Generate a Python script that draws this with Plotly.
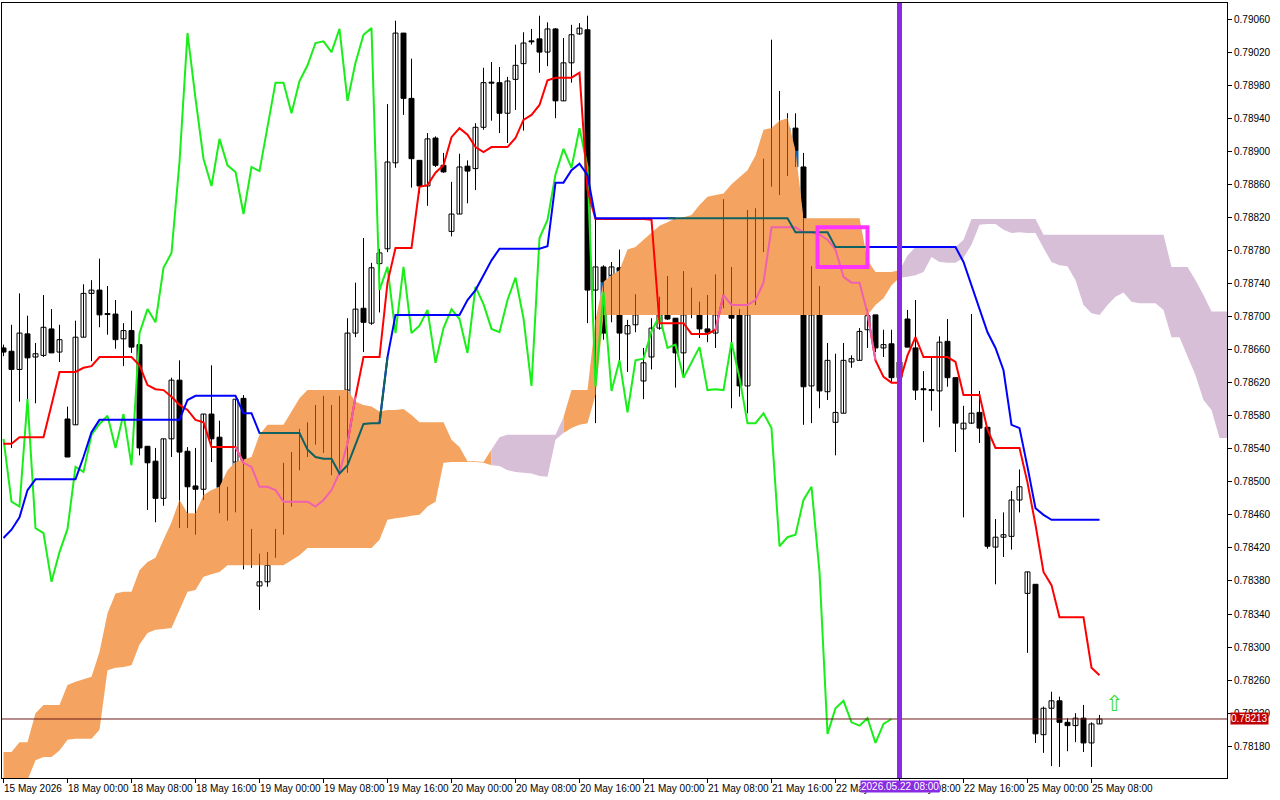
import plotly.graph_objects as go

# ---------------- data (H1 bars, index 0 = 15 May 2026 16:00) ----------------
opens = [0.78662,0.78658,0.78636,0.78679,0.78651,0.78653,0.78685,0.78657,0.78576,0.78569,
0.78675,0.78728,0.78732,0.78703,0.78703,0.78673,0.78683,0.78666,0.78543,0.78525,
0.78480,0.78552,0.78623,0.78537,0.78495,0.78491,0.78582,0.78554,0.78478,0.78468,
0.78601,0.78443,0.78374,0.78379,0.78414,0.78443,0.78518,0.78514,0.78557,0.78570,
0.78580,0.78541,0.78587,0.78520,0.78680,0.78710,0.78692,0.78764,0.78782,0.78886,
0.79043,0.78964,0.78889,0.78858,0.78916,0.78883,0.78803,0.78824,0.78882,0.78879,
0.78929,0.78983,0.78983,0.78946,0.78987,0.79006,0.79033,0.79036,0.79020,0.79048,
0.78961,0.79007,0.79042,0.79047,0.78732,0.78760,0.78715,0.78759,0.78679,0.78690,
0.78622,0.78651,0.78686,0.78709,0.78698,0.78656,0.78735,0.78718,0.78685,0.78680,
0.78710,0.78747,0.78703,0.78616,0.78795,0.78816,0.78874,0.78902,0.78880,0.78928,
0.78881,0.78616,0.78730,0.78609,0.78572,0.78583,0.78645,0.78647,0.78684,0.78702,
0.78662,0.78667,0.78626,0.78697,0.78662,0.78612,0.78611,0.78610,0.78670,0.78626,
0.78564,0.78571,0.78584,0.78566,0.78421,0.78433,0.78434,0.78478,0.78365,0.78376,
0.78194,0.78226,0.78235,0.78209,0.78205,0.78214,0.78184,0.78207]
highs = [0.78666,0.78690,0.78728,0.78701,0.78668,0.78726,0.78709,0.78690,0.78591,0.78695,
0.78739,0.78744,0.78770,0.78737,0.78720,0.78692,0.78707,0.78666,0.78543,0.78541,
0.78552,0.78626,0.78647,0.78542,0.78541,0.78582,0.78641,0.78574,0.78494,0.78600,
0.78605,0.78443,0.78413,0.78415,0.78443,0.78523,0.78536,0.78564,0.78572,0.78593,
0.78604,0.78593,0.78604,0.78698,0.78741,0.78795,0.78765,0.78782,0.78957,0.79058,
0.79043,0.79012,0.78889,0.78922,0.78918,0.78898,0.78863,0.78897,0.78889,0.78934,
0.79001,0.79008,0.79002,0.78990,0.79029,0.79044,0.79048,0.79064,0.79056,0.79049,
0.79037,0.79053,0.79055,0.79064,0.78819,0.78762,0.78766,0.78781,0.78696,0.78727,
0.78662,0.78698,0.78724,0.78749,0.78698,0.78755,0.78735,0.78718,0.78726,0.78751,
0.78842,0.78760,0.78709,0.78829,0.78831,0.78891,0.79035,0.78973,0.78946,0.78946,
0.78898,0.78761,0.78737,0.78668,0.78655,0.78668,0.78653,0.78686,0.78709,0.78702,
0.78684,0.78684,0.78653,0.78708,0.78720,0.78634,0.78650,0.78676,0.78697,0.78626,
0.78592,0.78703,0.78610,0.78566,0.78455,0.78463,0.78489,0.78515,0.78391,0.78376,
0.78228,0.78246,0.78240,0.78214,0.78220,0.78230,0.78209,0.78218]
lows = [0.78652,0.78541,0.78597,0.78599,0.78595,0.78651,0.78656,0.78645,0.78530,0.78569,
0.78675,0.78646,0.78687,0.78678,0.78661,0.78640,0.78656,0.78532,0.78466,0.78451,
0.78471,0.78530,0.78444,0.78444,0.78436,0.78478,0.78524,0.78462,0.78453,0.78463,
0.78394,0.78396,0.78345,0.78373,0.78408,0.78436,0.78470,0.78514,0.78530,0.78545,
0.78535,0.78508,0.78511,0.78511,0.78675,0.78657,0.78690,0.78705,0.78778,0.78880,
0.78944,0.78856,0.78849,0.78834,0.78881,0.78874,0.78797,0.78824,0.78837,0.78853,
0.78926,0.78937,0.78922,0.78910,0.78950,0.78925,0.79029,0.78995,0.79003,0.78940,
0.78961,0.78983,0.79041,0.78692,0.78571,0.78672,0.78693,0.78647,0.78633,0.78681,
0.78600,0.78636,0.78684,0.78696,0.78614,0.78626,0.78698,0.78674,0.78669,0.78662,
0.78710,0.78589,0.78603,0.78583,0.78714,0.78778,0.78857,0.78847,0.78870,0.78881,
0.78569,0.78571,0.78589,0.78599,0.78532,0.78583,0.78638,0.78647,0.78662,0.78657,
0.78651,0.78620,0.78617,0.78663,0.78599,0.78548,0.78586,0.78566,0.78615,0.78536,
0.78457,0.78570,0.78547,0.78419,0.78376,0.78409,0.78418,0.78463,0.78293,0.78184,
0.78172,0.78156,0.78155,0.78174,0.78185,0.78173,0.78155,0.78207]
closes = [0.78657,0.78636,0.78680,0.78650,0.78655,0.78687,0.78656,0.78672,0.78530,0.78675,
0.78728,0.78732,0.78702,0.78703,0.78672,0.78683,0.78663,0.78541,0.78523,0.78480,
0.78552,0.78623,0.78536,0.78494,0.78491,0.78582,0.78552,0.78476,0.78470,0.78600,
0.78444,0.78438,0.78379,0.78415,0.78443,0.78518,0.78512,0.78557,0.78570,0.78580,
0.78541,0.78582,0.78520,0.78680,0.78709,0.78693,0.78759,0.78777,0.78887,0.79043,
0.78964,0.78891,0.78858,0.78915,0.78883,0.78875,0.78824,0.78881,0.78876,0.78929,
0.78983,0.78983,0.78946,0.78985,0.79004,0.79031,0.79033,0.79020,0.79048,0.78961,
0.79007,0.79041,0.79049,0.78732,0.78760,0.78680,0.78760,0.78680,0.78689,0.78708,
0.78644,0.78686,0.78709,0.78697,0.78656,0.78736,0.78715,0.78685,0.78681,0.78720,
0.78747,0.78698,0.78616,0.78795,0.78817,0.78872,0.78903,0.78880,0.78928,0.78881,
0.78615,0.78730,0.78610,0.78647,0.78584,0.78647,0.78649,0.78682,0.78701,0.78662,
0.78666,0.78626,0.78645,0.78663,0.78611,0.78612,0.78611,0.78669,0.78626,0.78571,
0.78571,0.78583,0.78565,0.78422,0.78433,0.78436,0.78478,0.78494,0.78391,0.78195,
0.78226,0.78235,0.78209,0.78205,0.78214,0.78184,0.78207,0.78213]

tenkan = [0.78546,0.78546,0.78554,0.78554,0.78554,0.78554,0.78593,0.78633,0.78633,0.78633,
0.78638,0.78640,0.78651,0.78651,0.78651,0.78651,0.78651,0.78641,0.78617,0.78612,
0.78611,0.78603,0.78593,0.78587,0.78575,0.78572,0.78542,0.78542,0.78542,0.78542,
0.78523,0.78518,0.78494,0.78494,0.78490,0.78476,0.78476,0.78476,0.78476,0.78470,
0.78478,0.78490,0.78511,0.78547,0.78603,0.78651,0.78651,0.78651,0.78741,0.78783,
0.78783,0.78783,0.78857,0.78859,0.78874,0.78883,0.78917,0.78928,0.78920,0.78905,
0.78899,0.78905,0.78905,0.78905,0.78916,0.78938,0.78944,0.78956,0.78986,0.78989,
0.78989,0.78989,0.78995,0.78853,0.78818,0.78818,0.78818,0.78818,0.78818,0.78818,
0.78818,0.78817,0.78692,0.78692,0.78692,0.78692,0.78679,0.78679,0.78679,0.78684,
0.78726,0.78714,0.78714,0.78714,0.78720,0.78741,0.78808,0.78808,0.78808,0.78808,
0.78802,0.78802,0.78799,0.78793,0.78781,0.78748,0.78741,0.78741,0.78704,0.78647,
0.78627,0.78620,0.78620,0.78653,0.78675,0.78651,0.78651,0.78651,0.78651,0.78645,
0.78605,0.78605,0.78605,0.78563,0.78541,0.78541,0.78541,0.78541,0.78499,0.78448,
0.78391,0.78375,0.78336,0.78336,0.78336,0.78336,0.78275,0.78266]
kijun = [0.78432,0.78442,0.78457,0.78490,0.78503,0.78503,0.78503,0.78503,0.78503,0.78503,
0.78530,0.78560,0.78575,0.78575,0.78575,0.78575,0.78575,0.78575,0.78575,0.78575,
0.78575,0.78575,0.78575,0.78599,0.78604,0.78604,0.78604,0.78604,0.78604,0.78604,
0.78583,0.78583,0.78559,0.78559,0.78559,0.78559,0.78559,0.78559,0.78539,0.78530,
0.78528,0.78528,0.78510,0.78520,0.78545,0.78570,0.78571,0.78571,0.78651,0.78702,
0.78702,0.78702,0.78702,0.78702,0.78702,0.78702,0.78702,0.78702,0.78720,0.78732,
0.78750,0.78768,0.78782,0.78782,0.78782,0.78782,0.78782,0.78782,0.78785,0.78862,
0.78862,0.78877,0.78885,0.78871,0.78819,0.78819,0.78819,0.78819,0.78819,0.78819,
0.78819,0.78819,0.78819,0.78819,0.78819,0.78819,0.78819,0.78819,0.78819,0.78819,
0.78819,0.78819,0.78819,0.78819,0.78819,0.78819,0.78819,0.78819,0.78819,0.78802,
0.78802,0.78802,0.78802,0.78802,0.78784,0.78784,0.78784,0.78784,0.78784,0.78784,
0.78784,0.78784,0.78784,0.78784,0.78784,0.78784,0.78784,0.78784,0.78784,0.78784,
0.78766,0.78738,0.78710,0.78681,0.78662,0.78635,0.78569,0.78565,0.78518,0.78468,
0.78460,0.78454,0.78454,0.78454,0.78454,0.78454,0.78454,0.78454]
span_a = [0.78173,0.78173,0.78185,0.78185,0.78220,0.78230,0.78230,0.78230,0.78254,0.78258,
0.78261,0.78264,0.78294,0.78341,0.78365,0.78367,0.78367,0.78393,0.78403,0.78408,
0.78430,0.78451,0.78478,0.78462,0.78462,0.78484,0.78490,0.78494,0.78514,0.78524,
0.78527,0.78530,0.78557,0.78569,0.78569,0.78569,0.78585,0.78601,0.78611,0.78611,
0.78611,0.78611,0.78611,0.78611,0.78597,0.78593,0.78591,0.78585,0.78587,0.78587,
0.78588,0.78581,0.78572,0.78572,0.78572,0.78572,0.78551,0.78542,0.78525,0.78525,
0.78524,0.78520,0.78519,0.78514,0.78512,0.78511,0.78510,0.78507,0.78506,0.78551,
0.78578,0.78611,0.78611,0.78611,0.78696,0.78742,0.78750,0.78756,0.78781,0.78784,
0.78793,0.78802,0.78810,0.78814,0.78819,0.78820,0.78823,0.78835,0.78845,0.78847,
0.78849,0.78860,0.78868,0.78877,0.78895,0.78926,0.78928,0.78937,0.78940,0.78901,
0.78819,0.78819,0.78819,0.78819,0.78819,0.78819,0.78819,0.78819,0.78768,0.78754,
0.78754,0.78754,0.78747,0.78748,0.78750,0.78754,0.78772,0.78766,0.78765,0.78765,
0.78771,0.78787,0.78811,0.78812,0.78812,0.78805,0.78801,0.78802,0.78801,0.78801,
0.78783,0.78766,0.78762,0.78761,0.78744,0.78714,0.78704,0.78702,0.78714,0.78724,
0.78729,0.78718,0.78716,0.78716,0.78716,0.78708,0.78675,0.78675,0.78653,0.78629,
0.78599,0.78587,0.78553,0.78553]
span_b = [0.78133,0.78133,0.78133,0.78139,0.78163,0.78167,0.78167,0.78175,0.78188,0.78189,
0.78189,0.78189,0.78200,0.78272,0.78275,0.78276,0.78278,0.78303,0.78317,0.78321,
0.78322,0.78323,0.78345,0.78367,0.78369,0.78385,0.78388,0.78391,0.78399,0.78399,
0.78399,0.78399,0.78399,0.78399,0.78399,0.78399,0.78405,0.78411,0.78420,0.78420,
0.78420,0.78420,0.78420,0.78420,0.78420,0.78420,0.78420,0.78430,0.78454,0.78456,
0.78457,0.78459,0.78460,0.78470,0.78476,0.78523,0.78524,0.78524,0.78524,0.78524,
0.78523,0.78539,0.78554,0.78557,0.78557,0.78557,0.78557,0.78557,0.78557,0.78557,
0.78559,0.78565,0.78569,0.78571,0.78605,0.78702,0.78702,0.78702,0.78702,0.78702,
0.78702,0.78702,0.78702,0.78702,0.78702,0.78702,0.78702,0.78702,0.78702,0.78702,
0.78702,0.78702,0.78702,0.78702,0.78702,0.78702,0.78702,0.78702,0.78702,0.78702,
0.78702,0.78702,0.78702,0.78702,0.78702,0.78702,0.78702,0.78702,0.78702,0.78714,
0.78722,0.78738,0.78756,0.78774,0.78784,0.78784,0.78784,0.78784,0.78784,0.78784,
0.78793,0.78818,0.78818,0.78818,0.78818,0.78818,0.78818,0.78818,0.78818,0.78818,
0.78799,0.78799,0.78799,0.78799,0.78799,0.78799,0.78799,0.78799,0.78799,0.78799,
0.78799,0.78799,0.78799,0.78799,0.78799,0.78799,0.78760,0.78760,0.78760,0.78744,
0.78726,0.78706,0.78706,0.78706]
chikou_shift = 26
tick_bars = [0, 8, 16, 24, 32, 40, 48, 56, 64, 72, 80, 88, 96, 104, 112, 120, 128, 136]
tick_labels = ["15 May 2026", "18 May 00:00", "18 May 08:00", "18 May 16:00", "19 May 00:00",
               "19 May 08:00", "19 May 16:00", "20 May 00:00", "20 May 08:00", "20 May 16:00",
               "21 May 00:00", "21 May 08:00", "21 May 16:00", "22 May 00:00", "22 May 08:00",
               "22 May 16:00", "25 May 00:00", "25 May 08:00"]
price_ticks = [0.78180, 0.78220, 0.78260, 0.78300, 0.78340, 0.78380, 0.78420, 0.78460,
               0.78500, 0.78540, 0.78580, 0.78620, 0.78660, 0.78700, 0.78740, 0.78780,
               0.78820, 0.78860, 0.78900, 0.78940, 0.78980, 0.79020, 0.79060]
vline_bar = 112
vline_label = "2026.05.22 08:00"
last_price = 0.78213
rect_bars = (101.75, 108.0)
rect_prices = (0.78760, 0.78808)
arrow_bar, arrow_price = 138.8, 0.78232

# ---------------- styling ----------------
ORANGE, THISTLE = "#F4A460", "#D8BFD8"
IN_CANDLE = "#1462A8"
n = len(closes)
nc = len(span_a)

def cloud_at(i):
    if i < nc and span_a[i] >= span_b[i]:
        return span_b[i], span_a[i]
    return None

fig = go.Figure()

colors = [ORANGE if span_a[i] >= span_b[i] else THISTLE for i in range(nc)]
runs, s = [], 0
for i in range(1, nc + 1):
    if i == nc or colors[i] != colors[s]:
        runs.append((s, i - 1, colors[s])); s = i
for s, e, c in runs:
    xs = list(range(s, min(e + 1, nc - 1) + 1))
    lo = [min(span_a[i], span_b[i]) for i in xs]
    hi = [max(span_a[i], span_b[i]) for i in xs]
    fig.add_trace(go.Scatter(x=xs, y=lo, mode="lines", line=dict(width=0, color=c),
                             hoverinfo="skip", showlegend=False))
    fig.add_trace(go.Scatter(x=xs, y=hi, mode="lines", line=dict(width=0, color=c),
                             fill="tonexty", fillcolor=c, hoverinfo="skip", showlegend=False))

def split(a, b, cl):
    if cl is None:
        return [(a, b, False)]
    lo, hi = cl
    p = []
    ia, ib = max(a, lo), min(b, hi)
    if ib > ia:
        p.append((ia, ib, True))
        if lo > a: p.append((a, lo, False))
        if b > hi: p.append((hi, b, False))
    else:
        p.append((a, b, False))
    return p

wx = {False: [], True: []}; wy = {False: [], True: []}
bodies = {(bull, ins): ([], [], []) for bull in (True, False) for ins in (True, False)}
for i in range(n):
    cl = cloud_at(i)
    for a, b, ins in split(lows[i], highs[i], cl):
        wx[ins] += [i, i, None]; wy[ins] += [a, b, None]
    top, bot = max(opens[i], closes[i]), min(opens[i], closes[i])
    if top - bot < 0.000012:
        m = (top + bot) / 2; top, bot = m + 0.000006, m - 0.000006
    bull = closes[i] > opens[i]
    for a, b, ins in split(bot, top, cl):
        bx, by, bb = bodies[(bull, ins)]
        bx.append(i); by.append(b - a); bb.append(a)
for ins in (False, True):
    fig.add_trace(go.Scatter(x=wx[ins], y=wy[ins], mode="lines",
                             line=dict(color=IN_CANDLE if ins else "black", width=1),
                             hoverinfo="skip", showlegend=False))
for (bull, ins), (bx, by, bb) in bodies.items():
    col = IN_CANDLE if ins else "black"
    fig.add_trace(go.Bar(x=bx, y=by, base=bb, width=0.62,
                         marker=dict(color="white" if bull else col, line=dict(color=col, width=1)),
                         hoverinfo="skip", showlegend=False))

def add_line(vals, xs, c_out, c_in, width=2):
    inside = []
    for i, v in zip(xs, vals):
        cl = cloud_at(i)
        inside.append(cl is not None and cl[0] <= v <= cl[1])
    m = len(vals)
    out_y, in_y = [], []
    for k in range(m):
        near_in = inside[k] or (k > 0 and inside[k - 1]) or (k < m - 1 and inside[k + 1])
        near_out = (not inside[k]) or (k > 0 and not inside[k - 1]) or (k < m - 1 and not inside[k + 1])
        out_y.append(vals[k] if near_out else None)
        in_y.append(vals[k] if near_in else None)
    fig.add_trace(go.Scatter(x=xs, y=out_y, mode="lines", line=dict(color=c_out, width=width),
                             hoverinfo="skip", showlegend=False))
    if any(inside):
        fig.add_trace(go.Scatter(x=xs, y=in_y, mode="lines", line=dict(color=c_in, width=width),
                                 hoverinfo="skip", showlegend=False))

chikou_x = list(range(0, n - chikou_shift))
chikou_y = closes[chikou_shift:]
fig.add_trace(go.Scatter(x=chikou_x, y=chikou_y, mode="lines", line=dict(color="#19EE19", width=2),
                         hoverinfo="skip", showlegend=False))
add_line(tenkan, list(range(n)), "#FF0000", "#F060B0")
add_line(kijun, list(range(n)), "#0000FF", "#0E6262")

fig.add_hline(y=last_price, line=dict(color="#6B1A1A", width=1))
fig.add_vline(x=vline_bar, line=dict(color="#8A2BE2", width=5))
fig.add_shape(type="rect", x0=rect_bars[0], x1=rect_bars[1], y0=rect_prices[0], y1=rect_prices[1],
              line=dict(color="#FF33FF", width=4))

ann = []
for b, t in zip(tick_bars, tick_labels):
    ann.append(dict(x=b, y=0, xref="x", yref="paper", text=t, showarrow=False, xanchor="left",
                    yanchor="top", xshift=-2, yshift=-3, font=dict(size=10, color="black")))
ann.append(dict(x=vline_bar, y=0, xref="x", yref="paper", text=vline_label, showarrow=False,
                xanchor="center", yanchor="top", yshift=-2, bgcolor="#8A2BE2",
                font=dict(size=10, color="white"), borderpad=0))
ann.append(dict(x=1, y=last_price, xref="paper", yref="y", text=f"{last_price:.5f}", showarrow=False,
                xanchor="left", yanchor="middle", xshift=3, bgcolor="#C00000",
                font=dict(size=10, color="white"), borderpad=0))
ann.append(dict(x=arrow_bar, y=arrow_price, xref="x", yref="y", text="⇧", showarrow=False,
                font=dict(size=22, color="#33DD33", family="DejaVu Sans")))

fig.update_layout(
    width=1280, height=800, margin=dict(l=2, r=53, t=3, b=22),
    paper_bgcolor="white", plot_bgcolor="white", barmode="overlay",
    font=dict(family="Liberation Sans", size=10, color="black"),
    annotations=ann, showlegend=False,
    xaxis=dict(range=[-0.1875, 152.9375], showgrid=False, zeroline=False, showline=True, mirror=True,
               linecolor="black", linewidth=1, tickvals=tick_bars, ticks="outside", ticklen=4,
               tickcolor="black", showticklabels=False),
    yaxis=dict(range=[0.781416, 0.790794], side="right", showgrid=False, zeroline=False,
               showline=True, mirror=True, linecolor="black", linewidth=1, ticks="outside",
               ticklen=4, tickcolor="black", tickvals=price_ticks,
               ticktext=[f"{p:.5f}" for p in price_ticks]),
)
fig.write_html("out.html", config={"displayModeBar": False},
               post_script="document.body.style.margin='0px';")
